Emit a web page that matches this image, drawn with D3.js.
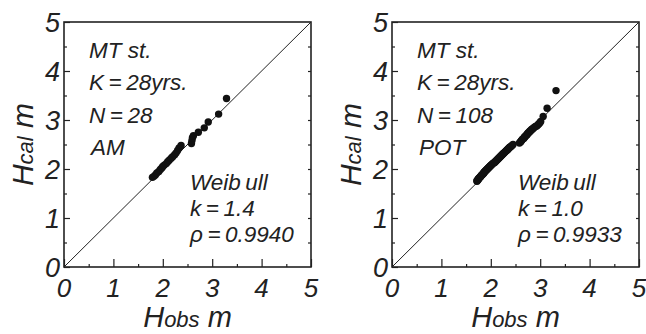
<!DOCTYPE html>
<html>
<head>
<meta charset="utf-8">
<script src="https://cdn.jsdelivr.net/npm/d3@7"></script>
<style>
  body { margin: 0; background: #fff; }
  svg { display: block; }
  text { font-family: "Liberation Sans", Arial, sans-serif; font-style: italic; fill: #222; }
  .domain { display: none; }
</style>
</head>
<body>
<div id="chart"></div>
<script>
// data (wave heights, m)
var obsAM = [1.79,1.82,1.85,1.88,1.92,1.95,1.98,2.00,2.03,2.07,2.10,2.13,2.17,2.20,
             2.24,2.27,2.30,2.33,2.37,2.58,2.59,2.60,2.62,2.72,2.84,2.92,3.13,3.29];
var calAM = [1.83,1.85,1.88,1.92,1.95,1.99,2.02,2.05,2.08,2.11,2.15,2.18,2.22,2.25,
             2.29,2.33,2.38,2.43,2.48,2.52,2.58,2.64,2.68,2.75,2.84,2.96,3.12,3.44];

var obsPOT = [1.72,1.72,1.73,1.74,1.75,1.75,1.76,1.77,1.78,1.79,
              1.80,1.80,1.81,1.82,1.83,1.84,1.85,1.86,1.86,1.87,
              1.88,1.89,1.90,1.91,1.92,1.93,1.94,1.95,1.96,1.97,
              1.98,1.99,2.00,2.01,2.02,2.03,2.04,2.05,2.07,2.08,
              2.09,2.10,2.11,2.12,2.13,2.14,2.15,2.16,2.17,2.18,
              2.19,2.20,2.21,2.22,2.23,2.24,2.25,2.26,2.27,2.28,
              2.29,2.30,2.31,2.32,2.33,2.34,2.35,2.36,2.37,2.38,
              2.39,2.41,2.43,2.45,
              2.58,2.60,2.61,2.62,2.63,2.64,2.66,2.67,2.68,2.69,
              2.70,2.72,2.73,2.74,2.75,2.76,2.78,2.79,2.80,2.82,
              2.83,2.85,2.86,2.88,2.89,2.91,2.93,2.95,2.97,2.99,3.01,
              3.06,3.14,3.32];
var calPOT = [1.75,1.76,1.77,1.78,1.79,1.80,1.81,1.82,1.83,1.84,
              1.85,1.86,1.87,1.88,1.89,1.90,1.91,1.92,1.93,1.94,
              1.95,1.96,1.97,1.98,1.99,2.00,2.01,2.02,2.03,2.04,
              2.05,2.06,2.07,2.08,2.09,2.10,2.11,2.12,2.13,2.14,
              2.15,2.16,2.17,2.18,2.19,2.20,2.21,2.22,2.23,2.24,
              2.25,2.26,2.27,2.28,2.29,2.30,2.31,2.32,2.33,2.34,
              2.35,2.36,2.37,2.38,2.39,2.40,2.41,2.42,2.43,2.44,
              2.45,2.46,2.48,2.50,
              2.53,2.55,2.56,2.58,2.59,2.61,2.62,2.63,2.65,2.66,
              2.67,2.69,2.70,2.71,2.73,2.74,2.75,2.77,2.78,2.79,
              2.81,2.82,2.83,2.85,2.86,2.87,2.88,2.90,2.92,2.94,2.97,
              3.07,3.24,3.60];

var majorTicks = [0, 1, 2, 3, 4, 5];
var minorTicks = [0.5, 1.5, 2.5, 3.5, 4.5];
var allTicks = [0.5, 1, 1.5, 2, 2.5, 3, 3.5, 4, 4.5];

var infoAM = ["MT st.", "K\u2009=\u200928yrs.", "N\u2009=\u200928", "AM"];
var infoPOT = ["MT st.", "K\u2009=\u200928yrs.", "N\u2009=\u2009108", "POT"];
var fitAM = ["Weib\u2009ull", "k\u2009=\u20091.4", "\u03c1\u2009=\u20090.9940"];
var fitPOT = ["Weib\u2009ull", "k\u2009=\u20091.0", "\u03c1\u2009=\u20090.9933"];

var W = 646, H = 334;
var svg = d3.select("#chart").append("svg")
    .attr("width", W)
    .attr("height", H);

function panel(left, obs, cal, info, fit) {
  var top = 22, size = 247, bottom = top + 245;

  var x = d3.scaleLinear().domain([0, 5]).range([left, left + size]);
  var y = d3.scaleLinear().domain([0, 5]).range([bottom, top]);

  var g = svg.append("g");

  // 1:1 line
  g.append("line")
      .attr("x1", x(0)).attr("y1", y(0))
      .attr("x2", x(5)).attr("y2", y(5))
      .attr("stroke", "#222").attr("stroke-width", 1);

  // points
  g.selectAll(".dot")
      .data(obs)
      .enter().append("circle")
      .attr("class", "dot")
      .attr("cx", function(d) { return x(d); })
      .attr("cy", function(d, i) { return y(cal[i]); })
      .attr("r", 3.7)
      .attr("fill", "#111");

  // ticks, all pointing inward
  g.append("g")
      .attr("transform", "translate(0," + bottom + ")")
      .call(d3.axisBottom(x).tickValues(majorTicks).tickSize(-8).tickFormat(""));
  g.append("g")
      .attr("transform", "translate(0," + bottom + ")")
      .call(d3.axisBottom(x).tickValues(minorTicks).tickSize(-3).tickFormat(""));
  g.append("g")
      .attr("transform", "translate(" + left + ",0)")
      .call(d3.axisLeft(y).tickValues(majorTicks).tickSize(-6).tickFormat(""));
  g.append("g")
      .attr("transform", "translate(" + left + ",0)")
      .call(d3.axisLeft(y).tickValues(minorTicks).tickSize(-3).tickFormat(""));
  g.append("g")
      .attr("transform", "translate(" + (left + size) + ",0)")
      .call(d3.axisRight(y).tickValues(allTicks).tickSize(-3).tickFormat(""));
  g.selectAll(".tick line").attr("stroke", "#222").attr("stroke-width", 1.2);

  // frame
  g.append("rect")
      .attr("x", x(0)).attr("y", y(5))
      .attr("width", x(5) - x(0)).attr("height", y(0) - y(5))
      .attr("fill", "none").attr("stroke", "#222").attr("stroke-width", 1.6);

  // tick labels
  g.selectAll(".xl")
      .data(majorTicks)
      .enter().append("text")
      .attr("x", function(d) { return x(d); })
      .attr("y", bottom + 30)
      .attr("text-anchor", "middle")
      .style("font-size", "26px")
      .text(function(d) { return d; });
  g.selectAll(".yl")
      .data(majorTicks)
      .enter().append("text")
      .attr("x", left - 4)
      .attr("y", function(d) { return y(d) + 10; })
      .attr("text-anchor", "end")
      .style("font-size", "27px")
      .text(function(d) { return d; });

  // axis titles
  var xt = g.append("text")
      .attr("x", x(2.5))
      .attr("y", 327)
      .attr("text-anchor", "middle")
      .style("font-size", "29px");
  xt.append("tspan").text("H");
  xt.append("tspan").style("font-size", "22px").text("obs");
  xt.append("tspan").text(" m");

  var yt = g.append("text")
      .attr("transform", "translate(" + (left - 31) + "," + y(2.5) + ") rotate(-90)")
      .attr("text-anchor", "middle")
      .style("font-size", "30px");
  yt.append("tspan").text("H");
  yt.append("tspan").style("font-size", "22px").text("cal");
  yt.append("tspan").text(" m");

  // annotations
  g.selectAll(".info")
      .data(info)
      .enter().append("text")
      .attr("x", function(d, i) { return left + (i == 3 ? 27 : 25); })
      .attr("y", function(d, i) { return 58 + i * 32.3; })
      .style("font-size", "22.5px")
      .text(function(d) { return d; });
  g.selectAll(".fit")
      .data(fit)
      .enter().append("text")
      .attr("x", left + 126)
      .attr("y", function(d, i) { return 190 + i * 26; })
      .style("font-size", "22.5px")
      .text(function(d) { return d; });
}

panel(64, obsAM, calAM, infoAM, fitAM);
panel(392, obsPOT, calPOT, infoPOT, fitPOT);
</script>
</body>
</html>
